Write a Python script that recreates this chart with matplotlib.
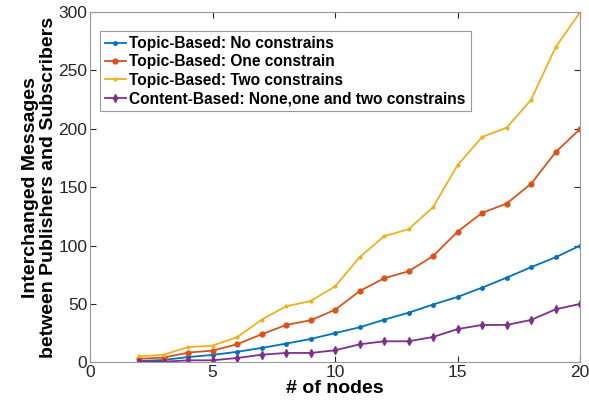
import numpy as np
import matplotlib
matplotlib.use('Agg')
import matplotlib.pyplot as plt

plt.rcParams['font.family'] = ['Liberation Sans', 'DejaVu Sans']

# data
nodes = list(range(2, 21))
no_constrains = [1, 2, 4.5, 6.3, 9, 12.3, 16, 20, 25, 30, 36.5, 42.5, 49.5, 56, 64, 72.5, 81.5, 90, 100]
one_constrain = [3, 4, 8.3, 10, 15.5, 24, 32, 36, 45, 61, 72, 78, 91, 112, 128, 136, 153, 180, 200]
two_constrains = [5, 6.5, 13, 14.3, 21.5, 36.5, 48, 52.5, 65, 90, 108, 114, 133, 169, 193, 201, 225, 270, 300]
content_based = [0.5, 0.5, 1.7, 1.7, 3.7, 6.5, 8, 8, 10.3, 15.4, 18, 18, 21.7, 28.5, 32, 32, 36.3, 45.4, 50]

labels = ['Topic-Based: No constrains',
          'Topic-Based: One constrain',
          'Topic-Based: Two constrains',
          'Content-Based: None,one and two constrains']
colors = ['#0072BD', '#D95319', '#EDB120', '#7E2F8E']

fig = plt.figure(figsize=(5.89, 4.03), dpi=100)
ax = fig.add_axes([0.153, 0.101, 0.832, 0.869])

ax.plot(nodes, no_constrains, '-', marker='.', ms=5, color=colors[0], lw=1.3, label=labels[0])
ax.plot(nodes, one_constrain, '-', marker='o', ms=3.5, color=colors[1], lw=1.3, label=labels[1])
ax.plot(nodes, two_constrains, '-', marker='.', ms=4, color=colors[2], lw=1.3, label=labels[2])
ax.plot(nodes, content_based, '-', marker='d', ms=4, color=colors[3], lw=1.3, label=labels[3])

ax.set_xlim(0, 20)
ax.set_ylim(0, 300)
ax.set_xticks([0, 5, 10, 15, 20])
ax.set_yticks([0, 50, 100, 150, 200, 250, 300])
ax.tick_params(direction='in', top=True, right=True, labelsize=12.5, colors='#262626', length=4, pad=2)
for sp in ax.spines.values():
    sp.set_color('#999999')

ax.set_xlabel('# of nodes', fontsize=14, fontweight='bold', labelpad=0)
ax.set_ylabel('Interchanged Messages\nbetween Publishers and Subscribers', fontsize=14,
              fontweight='bold', labelpad=1, linespacing=1.05)

leg = ax.legend(loc='upper left', bbox_to_anchor=(0.02, 0.945), prop={'weight': 'bold', 'size': 11.2},
                handlelength=1.4, handletextpad=0.2, labelspacing=0.22, borderpad=0.3,
                fancybox=False, framealpha=1, edgecolor='#999999', borderaxespad=0)
leg.get_frame().set_linewidth(0.8)

fig.savefig('out.png', dpi=100)
